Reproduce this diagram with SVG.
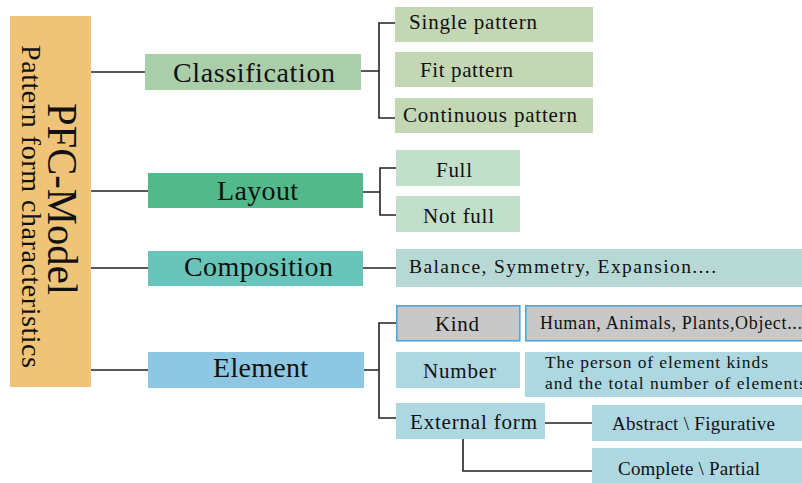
<svg xmlns="http://www.w3.org/2000/svg" width="802" height="483" viewBox="0 0 802 483">
<style>
.t{font-family:"Liberation Serif","Times New Roman",serif;fill:#111;}
.c{stroke:#222;stroke-width:1.6;fill:none;}
.main{font-size:28px;}
.sub{font-size:21px;}
.kind{fill:#C8C8C8;stroke:#4DA8DE;stroke-width:1.6;}
.lb{fill:#ADD8E2;}
</style>
<rect width="802" height="483" fill="#ffffff"/>

<g id="connectors">
  <path class="c" d="M91 72H146 M91 191H149 M91 268H149 M91 370H149"/>
  <path class="c" d="M361 71H379 M396 23H379V118H396"/>
  <path class="c" d="M363 192H380 M396 168H380V215H396"/>
  <path class="c" d="M363 268H396"/>
  <path class="c" d="M364 370H379 M396 323H379V418H396"/>
  <path class="c" d="M545 423H593 M463 439V471H593"/>
</g>

<g id="root">
  <rect x="10" y="16" width="81" height="371" fill="#F0C478"/>
  <text class="t" transform="translate(48,199) rotate(90)" x="0" y="0" font-size="42" text-anchor="middle" textLength="192" lengthAdjust="spacingAndGlyphs">PFC-Model</text>
  <text class="t" transform="translate(22,206.5) rotate(90)" x="0" y="0" font-size="28" text-anchor="middle" textLength="323" lengthAdjust="spacing">Pattern form characteristics</text>
</g>

<g id="classification">
  <rect x="145" y="54" width="216" height="36" fill="#AACDAA"/>
  <text class="t main" x="173" y="82" textLength="162" lengthAdjust="spacing">Classification</text>
</g>
<g id="single-pattern">
  <rect x="395" y="7" width="198" height="35" fill="#C3D7B4"/>
  <text class="t sub" x="409" y="29" textLength="128" lengthAdjust="spacing">Single pattern</text>
</g>
<g id="fit-pattern">
  <rect x="395" y="52" width="198" height="35" fill="#C3D7B4"/>
  <text class="t sub" x="420" y="77" textLength="93" lengthAdjust="spacing">Fit pattern</text>
</g>
<g id="continuous-pattern">
  <rect x="395" y="98" width="198" height="35" fill="#C3D7B4"/>
  <text class="t sub" x="403" y="122" textLength="174" lengthAdjust="spacing">Continuous pattern</text>
</g>

<g id="layout">
  <rect x="148" y="173" width="215" height="35" fill="#52B98A"/>
  <text class="t main" x="217" y="200" textLength="81" lengthAdjust="spacing">Layout</text>
</g>
<g id="full">
  <rect x="396" y="150" width="124" height="36" fill="#C2DFCC"/>
  <text class="t sub" x="436" y="177" textLength="36" lengthAdjust="spacing">Full</text>
</g>
<g id="not-full">
  <rect x="396" y="196" width="124" height="36" fill="#C2DFCC"/>
  <text class="t sub" x="423" y="223" textLength="71" lengthAdjust="spacing">Not full</text>
</g>

<g id="composition">
  <rect x="148" y="251" width="215" height="35" fill="#69C4B9"/>
  <text class="t main" x="184" y="276" textLength="149" lengthAdjust="spacing">Composition</text>
</g>
<g id="composition-detail">
  <rect x="396" y="249" width="406" height="38" fill="#B7D9D5"/>
  <text class="t" font-size="19.5" x="409" y="273" textLength="307" lengthAdjust="spacing">Balance, Symmetry, Expansion....</text>
</g>

<g id="element">
  <rect x="148" y="352" width="216" height="36" fill="#8EC7E1"/>
  <text class="t main" x="213" y="377" textLength="95" lengthAdjust="spacing">Element</text>
</g>
<g id="kind">
  <rect class="kind" x="396.8" y="305.8" width="123" height="35"/>
  <text class="t sub" x="435" y="331" textLength="44" lengthAdjust="spacing">Kind</text>
</g>
<g id="kind-detail">
  <rect class="kind" x="525.8" y="305.8" width="280" height="35"/>
  <text class="t" font-size="18" x="540" y="329" textLength="262" lengthAdjust="spacing">Human, Animals, Plants,Object...</text>
</g>
<g id="number">
  <rect class="lb" x="396" y="352" width="124" height="36"/>
  <text class="t sub" x="423" y="378" textLength="73" lengthAdjust="spacing">Number</text>
</g>
<g id="number-detail">
  <rect class="lb" x="525" y="352" width="277" height="45"/>
  <text class="t" font-size="17.5" x="545" y="368" textLength="223" lengthAdjust="spacing">The person of element kinds</text>
  <text class="t" font-size="17.5" x="545" y="389" textLength="261" lengthAdjust="spacing">and the total number of elements</text>
</g>
<g id="external-form">
  <rect class="lb" x="396" y="403" width="149" height="36"/>
  <text class="t sub" x="410" y="429" textLength="127" lengthAdjust="spacing">External form</text>
</g>
<g id="abstract-figurative">
  <rect class="lb" x="592" y="405" width="210" height="36"/>
  <text class="t" font-size="19" x="612" y="430" textLength="163" lengthAdjust="spacing">Abstract \ Figurative</text>
</g>
<g id="complete-partial">
  <rect class="lb" x="592" y="448" width="210" height="35"/>
  <text class="t" font-size="19" x="618" y="475" textLength="142" lengthAdjust="spacing">Complete \ Partial</text>
</g>
</svg>
